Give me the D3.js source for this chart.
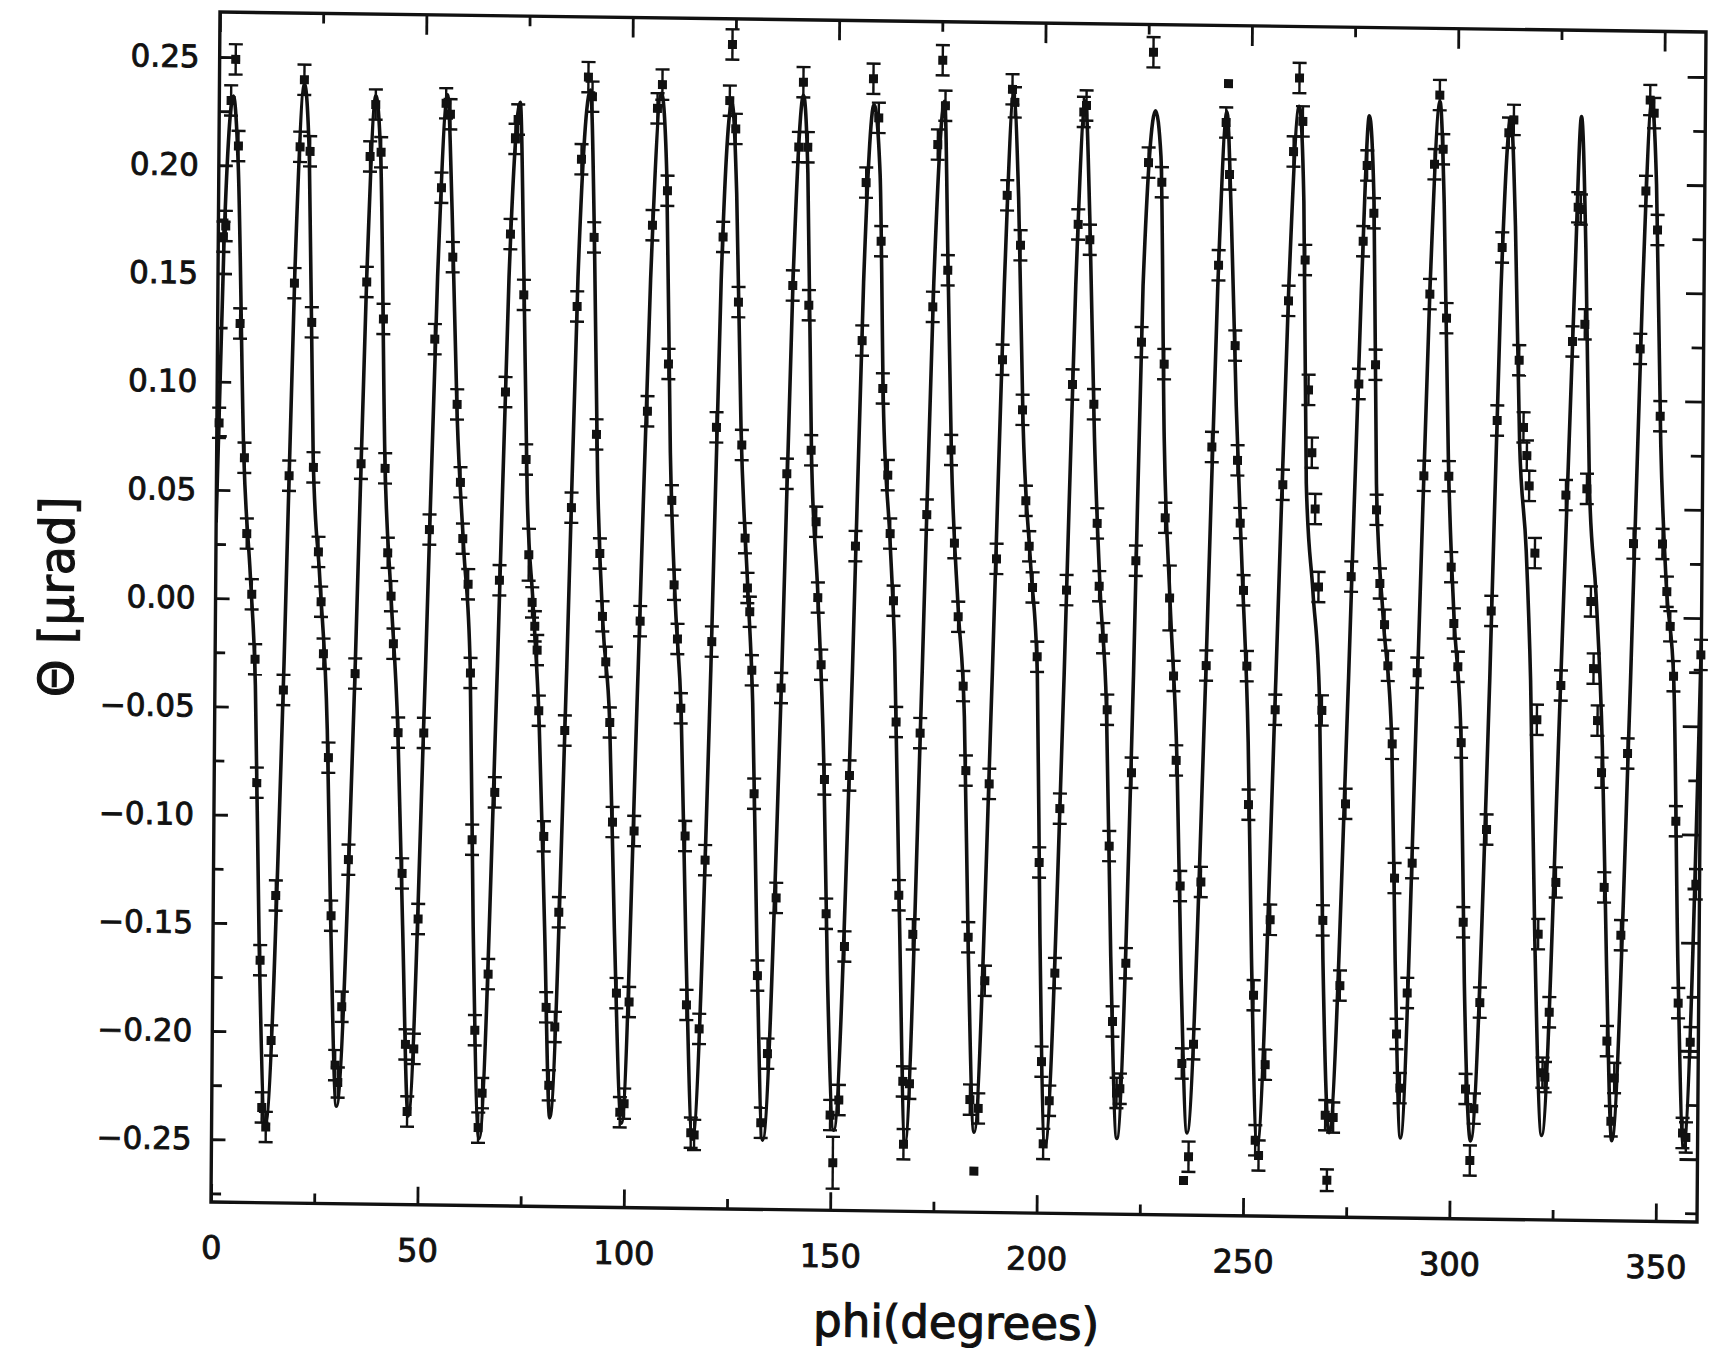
<!DOCTYPE html>
<html>
<head>
<meta charset="utf-8">
<script src="https://cdn.jsdelivr.net/npm/d3@7"></script>
<style>
  html, body { margin: 0; padding: 0; background: #fff; }
  svg { display: block; }
</style>
</head>
<body>
<script>
// Measured tilt angle Θ (µrad) against rotation angle phi (degrees): [phi, theta]
const measurements = [
  [0.53,0.081],[1.24,0.167],[1.79,0.172],[2.85,0.230],[3.90,0.249],[4.71,0.209],[5.44,0.127],[6.73,0.065],
  [7.44,0.030],[8.76,0.002],[9.68,-0.028],[10.32,-0.085],[11.45,-0.167],[12.12,-0.235],[13.13,-0.244],
  [14.26,-0.204],[15.12,-0.137],[16.60,-0.042],[17.59,0.057],[18.53,0.146],[19.65,0.209],[20.57,0.240],
  [22.08,0.207],[22.79,0.128],[23.46,0.061],[24.83,0.022],[25.57,-0.001],[26.23,-0.025],[27.63,-0.073],
  [28.56,-0.146],[29.81,-0.215],[30.49,-0.223],[31.31,-0.188],[32.66,-0.120],[33.94,-0.034],[35.00,0.063],
  [36.04,0.147],[36.62,0.205],[37.90,0.229],[39.28,0.207],[40.15,0.130],[40.83,0.061],[41.62,0.022],
  [42.51,0.002],[43.16,-0.020],
  [44.46,-0.061],[45.69,-0.126],[46.81,-0.205],[47.34,-0.236],[48.84,-0.207],[49.65,-0.147],[50.68,-0.061],
  [51.68,0.033],[52.63,0.121],[53.97,0.191],[54.94,0.230],[56.01,0.225],[56.84,0.159],[58.16,0.091],
  [59.10,0.055],[59.78,0.029],[61.15,0.008],[61.88,-0.033],[62.59,-0.110],[63.59,-0.198],[64.57,-0.243],
  [65.47,-0.227],[66.71,-0.172],[67.99,-0.088],[68.73,0.010],[69.85,0.097],[70.77,0.170],[71.80,0.214],
  [72.41,0.223],[74.11,0.142],[74.97,0.066],[75.80,0.022],[76.69,0.000],[77.38,-0.011],[77.99,-0.022],
  [78.50,-0.050],[79.94,-0.108],[80.82,-0.187],[81.61,-0.223],[82.96,-0.196],[83.72,-0.143],[84.83,-0.059],
  [86.04,0.044],[87.05,0.137],[87.83,0.205],
  [89.37,0.243],[90.38,0.234],[91.04,0.169],[91.97,0.078],[93.00,0.023],[93.75,-0.006],[94.64,-0.027],
  [95.72,-0.055],[96.56,-0.101],[97.83,-0.180],[98.86,-0.235],[99.89,-0.231],[100.91,-0.184],[101.81,-0.105],
  [102.89,-0.008],[104.27,0.089],[105.15,0.175],[106.15,0.229],[107.31,0.240],[108.72,0.191],[109.28,0.111],
  [110.34,0.048],[111.05,0.009],[111.96,-0.016],[112.90,-0.048],[114.18,-0.107],[114.81,-0.185],[116.09,-0.244],
  [116.91,-0.245],[117.93,-0.196],[119.06,-0.118],[120.28,-0.017],[121.02,0.082],[122.28,0.170],[123.65,0.233],
  [124.20,0.259],[125.15,0.220],[126.12,0.140],[127.19,0.074],[128.16,0.031],[128.82,0.008],[129.43,-0.003],
  [130.03,-0.030],[130.81,-0.087],[131.95,-0.171],[133.03,-0.239],[134.52,-0.207],
  [136.34,-0.135],[137.16,-0.038],[138.15,0.061],[139.25,0.148],[140.45,0.212],[141.46,0.242],[142.63,0.212],
  [143.17,0.139],[144.00,0.072],[145.34,0.039],[145.88,0.004],[146.81,-0.027],[147.83,-0.080],[148.48,-0.142],
  [149.81,-0.235],[150.55,-0.257],[151.89,-0.228],[152.98,-0.157],[153.88,-0.078],[154.91,0.028],[156.15,0.123],
  [156.83,0.196],[158.42,0.244],[159.77,0.226],[160.57,0.169],[161.24,0.101],[162.61,0.061],[163.29,0.034],
  [164.22,0.003],[165.08,-0.053],[166.05,-0.133],[167.36,-0.219],[167.64,-0.248],[168.98,-0.220],[169.51,-0.151],
  [170.92,-0.058],[172.13,0.043],[173.21,0.139],[174.12,0.214],[175.17,0.253],[175.90,0.232],[176.77,0.156],
  [177.91,0.073],[178.88,0.030],
  [179.92,-0.004],[181.26,-0.036],[182.06,-0.075],[182.93,-0.152],[183.64,-0.227],[184.74,-0.260],[185.67,-0.231],
  [187.05,-0.172],[187.74,-0.081],[189.10,0.023],[190.19,0.115],[191.02,0.191],[192.11,0.240],[192.71,0.234],
  [194.34,0.168],[195.13,0.092],[196.10,0.050],[196.99,0.029],[197.88,0.010],[199.13,-0.022],[199.99,-0.117],
  [200.92,-0.209],[201.48,-0.247],[202.86,-0.227],[203.99,-0.168],[204.90,-0.092],[206.12,0.009],[207.19,0.104],
  [208.27,0.178],[209.43,0.230],[210.07,0.233],[211.13,0.171],[212.40,0.095],[213.42,0.040],[214.02,0.011],
  [215.09,-0.013],[216.19,-0.046],[216.92,-0.109],[218.05,-0.190],[219.15,-0.223],[219.95,-0.221],[221.17,-0.163],
  [222.19,-0.075],[222.86,0.023],[223.82,0.124],
  [225.20,0.207],[226.20,0.258],[228.46,0.198],[229.36,0.114],[229.89,0.043],[231.10,0.006],[232.20,-0.030],
  [232.99,-0.069],[234.19,-0.127],[234.92,-0.209],[235.54,-0.263],[236.71,-0.252],[237.71,-0.200],[239.20,-0.125],
  [240.09,-0.025],[241.06,0.076],[242.35,0.160],[243.93,0.226],[244.43,0.244],[244.84,0.202],[246.52,0.123],
  [247.30,0.070],[248.07,0.041],[248.99,0.010],[249.94,-0.025],[250.59,-0.089],[252.16,-0.177],[252.83,-0.244],
  [253.67,-0.251],[255.11,-0.209],[256.05,-0.142],[256.88,-0.045],[258.32,0.059],[259.36,0.144],[260.31,0.213],
  [261.62,0.247],[262.51,0.227],[263.32,0.163],[264.37,0.103],[265.30,0.074],[266.20,0.048],[267.15,0.012],
  [268.19,-0.045],[268.81,-0.142],[269.74,-0.232],[270.26,-0.262],
  [271.68,-0.233],[273.06,-0.172],[274.09,-0.088],[275.05,0.017],[276.55,0.106],[277.34,0.172],[278.17,0.207],
  [279.88,0.185],[280.56,0.115],[281.07,0.048],[282.01,0.014],[283.22,-0.005],[284.10,-0.024],[285.29,-0.060],
  [286.10,-0.122],[286.87,-0.194],[287.77,-0.219],[289.38,-0.175],[290.35,-0.115],[291.21,-0.027],[292.47,0.064],
  [293.59,0.148],[294.48,0.208],[295.64,0.240],[296.55,0.215],[297.67,0.137],[298.52,0.064],[299.26,0.022],
  [300.00,-0.004],[301.05,-0.024],[302.00,-0.059],[302.82,-0.142],[303.68,-0.219],[304.86,-0.252],[305.74,-0.228],
  [306.99,-0.179],[308.30,-0.099],[309.03,0.002],[310.13,0.090],[311.02,0.170],[312.43,0.223],[313.62,0.229],
  [315.35,0.118],[316.52,0.087],[317.38,0.074],[318.00,0.060],[319.51,0.029],[320.29,-0.048],[321.00,-0.147],
  [322.30,-0.211],[322.88,-0.213],[323.82,-0.183],[325.19,-0.123],[326.04,-0.032],[326.91,0.056],[328.23,0.127],
  [329.36,0.189],[330.01,0.188],[331.19,0.135],[331.98,0.059],[333.15,0.007],[333.93,-0.024],[334.99,-0.048],
  [336.05,-0.072],[336.90,-0.125],[337.84,-0.196],[338.95,-0.233],[339.68,-0.213],[341.03,-0.147],[342.32,-0.063],
  [343.38,0.034],[344.64,0.124],[345.73,0.197],[346.61,0.239],[347.60,0.233],[348.62,0.179],[349.61,0.093],
  [350.40,0.034],[351.54,0.012],[352.42,-0.004],[353.32,-0.027],[354.14,-0.094],[355.04,-0.178],[356.33,-0.238],
  [357.15,-0.240],[358.03,-0.196],[359.11,-0.123],[359.90,-0.017]
];

// Error bar half-width (µrad); a few points carry a different one
const sigmaDefault = 0.007;
const sigmaByPhi = new Map([
  [75.80, 0.012], [150.55, 0.012], [184.74, 0], [231.10, 0.015],
  [235.54, 0], [244.43, 0], [270.26, 0.005]
]);

// Fitted curve through the run: [phi, theta]
const fitCurve = [
  [0.0,0.035],[1.4,0.165],
  [3.4,0.232],[4.7,0.200],[6.6,0.065],[8.4,0.010],[9.8,-0.040],[11.2,-0.160],[13.0,-0.243],[16.7,-0.030],[18.6,0.150],
  [20.6,0.238],[21.9,0.205],[23.4,0.065],[25.2,0.010],[27.3,-0.060],[28.5,-0.150],[30.2,-0.234],[33.9,-0.035],[36.0,0.147],
  [37.9,0.233],[39.2,0.205],[40.8,0.063],[42.4,0.005],[44.4,-0.060],[45.9,-0.150],[47.6,-0.238],[51.0,-0.030],[53.2,0.150],
  [55.3,0.234],[56.6,0.180],[58.2,0.085],[60.0,0.025],[61.8,-0.030],[63.0,-0.150],[64.8,-0.248],[68.4,-0.030],[70.5,0.150],
  [72.9,0.231],[74.0,0.160],[75.3,0.050],[76.9,0.000],[78.6,-0.055],[80.3,-0.150],[81.9,-0.238],[85.2,-0.030],[87.2,0.150],
  [89.9,0.237],[91.1,0.170],[92.3,0.060],[93.9,-0.010],[95.7,-0.055],[97.2,-0.150],[99.3,-0.240],[102.5,-0.030],[104.8,0.150],
  [107.1,0.236],[108.5,0.200],[109.9,0.070],[111.4,0.000],[113.0,-0.050],[114.6,-0.160],[116.5,-0.247],[120.1,-0.030],[121.9,0.150],
  [124.2,0.232],[125.5,0.190],[127.0,0.080],[128.9,0.008],[130.3,-0.045],[131.8,-0.160],[133.5,-0.247],[137.3,-0.030],[139.3,0.150],
  [141.5,0.236],[142.7,0.200],[144.1,0.070],[145.9,0.005],[147.6,-0.070],[148.9,-0.170],[150.7,-0.242],[154.4,-0.030],[156.4,0.150],
  [158.6,0.232],[160.2,0.200],[161.4,0.095],[163.3,0.030],[164.6,-0.020],[166.2,-0.140],[168.0,-0.247],[171.3,-0.030],[173.4,0.150],
  [175.7,0.234],[176.8,0.160],[178.0,0.070],[179.9,0.000],[181.6,-0.050],[183.0,-0.160],[184.7,-0.242],[188.3,-0.030],[190.5,0.150],
  [192.4,0.237],[193.8,0.190],[195.3,0.085],[197.4,0.020],[199.2,-0.030],[200.3,-0.150],[201.9,-0.248],[205.7,-0.030],[207.8,0.150],
  [209.8,0.235],[211.1,0.180],[212.6,0.080],[214.3,0.008],[216.0,-0.045],[217.5,-0.160],[219.3,-0.244],[222.5,-0.030],[224.1,0.150],
  [226.8,0.231],[228.2,0.210],[229.5,0.080],[231.2,0.005],[233.2,-0.070],[234.6,-0.170],[236.3,-0.241],[240.0,-0.030],[242.2,0.150],
  [244.1,0.231],[245.4,0.180],[246.9,0.095],[248.6,0.020],[250.4,-0.060],[251.6,-0.160],[253.3,-0.246],[257.0,-0.030],[259.4,0.150],
  [261.6,0.234],[262.9,0.190],[264.0,0.060],[265.8,0.010],[267.6,-0.040],[268.9,-0.160],[270.7,-0.240],[274.6,-0.030],[277.0,0.150],
  [278.6,0.230],[279.9,0.190],[281.0,0.060],[282.8,0.000],[285.2,-0.060],[286.4,-0.160],[288.0,-0.242],[291.3,-0.030],[293.6,0.150],
  [295.7,0.237],[296.9,0.190],[298.4,0.070],[300.0,0.000],[302.0,-0.060],[303.2,-0.170],[305.0,-0.243],[308.8,-0.030],[310.8,0.150],
  [312.9,0.230],[314.2,0.180],[315.6,0.080],[317.4,0.030],[318.7,-0.030],[320.2,-0.150],[322.2,-0.240],[326.0,-0.030],[328.6,0.150],
  [330.0,0.231],[331.3,0.170],[332.6,0.060],[334.4,0.010],[336.2,-0.060],[337.6,-0.160],[339.2,-0.242],[342.9,-0.030],[345.1,0.150],
  [347.0,0.238],[348.3,0.200],[349.8,0.080],[351.4,0.015],[353.4,-0.030],[354.9,-0.160],[356.6,-0.244],[360.0,-0.010]
];

// Tick values
const xMajorTicks = [0, 50, 100, 150, 200, 250, 300, 350];
const xMinorTicks = [25, 75, 125, 175, 225, 275, 325];
const yMajorTicks = [-0.25, -0.20, -0.15, -0.10, -0.05, 0.00, 0.05, 0.10, 0.15, 0.20, 0.25];
const yMinorTicks = [-0.275, -0.225, -0.175, -0.125, -0.075, -0.025, 0.025, 0.075, 0.125, 0.175, 0.225];

const xLabel = "phi(degrees)";
const yLabel = "\u0398 [\u03bcrad]";

// ---- layout ----
const pageW = 1709, pageH = 1354;
const W = 1486, H = 1190;
const ink = "#111";
const font = "'DejaVu Sans', 'Liberation Sans', sans-serif";

const x = d3.scaleLinear().domain([0, 360]).range([0, W]);
const y = d3.scaleLinear().domain([-0.279, 0.2708]).range([H, 0]);

const svg = d3.select("body").append("svg")
  .attr("width", pageW).attr("height", pageH)
  .attr("viewBox", `0 0 ${pageW} ${pageH}`);

svg.append("rect").attr("width", pageW).attr("height", pageH).attr("fill", "#fff");

// the printed sheet sits slightly askew on the page
const g = svg.append("g")
  .attr("transform", "matrix(1,0.01346,-0.00756,1,220,12)");

g.append("clipPath").attr("id", "plotClip")
  .append("rect").attr("x", 0).attr("y", 0).attr("width", W).attr("height", H);

function styleAxis(sel, fontSize) {
  sel.select(".domain").remove();
  sel.selectAll(".tick line").attr("stroke", ink).attr("stroke-width", 2.8);
  sel.selectAll(".tick text")
    .attr("fill", ink)
    .attr("stroke", ink)
    .attr("stroke-width", 0.9)
    .attr("font-family", font)
    .attr("font-size", fontSize);
}

// bottom axis
g.append("g").attr("transform", `translate(0,${H})`)
  .call(d3.axisBottom(x).tickValues(xMajorTicks).tickSizeInner(-18).tickSizeOuter(0)
        .tickPadding(34).tickFormat(d3.format("d")))
  .call(s => styleAxis(s, 32));
g.append("g").attr("transform", `translate(0,${H})`)
  .call(d3.axisBottom(x).tickValues(xMinorTicks).tickSizeInner(-10).tickSizeOuter(0).tickFormat(""))
  .call(s => styleAxis(s, 32));

// top axis (ticks only)
g.append("g")
  .call(d3.axisTop(x).tickValues(xMajorTicks).tickSizeInner(-20).tickSizeOuter(0).tickFormat(""))
  .call(s => styleAxis(s, 32));
g.append("g")
  .call(d3.axisTop(x).tickValues(xMinorTicks).tickSizeInner(-10).tickSizeOuter(0).tickFormat(""))
  .call(s => styleAxis(s, 32));

// left axis
g.append("g")
  .call(d3.axisLeft(y).tickValues(yMajorTicks).tickSizeInner(-14).tickSizeOuter(0)
        .tickPadding(20).tickFormat(d3.format(".2f")))
  .call(s => styleAxis(s, 31));
g.append("g")
  .call(d3.axisLeft(y).tickValues(yMinorTicks).tickSizeInner(-10).tickSizeOuter(0).tickFormat(""))
  .call(s => styleAxis(s, 31));

// right axis (ticks only)
g.append("g").attr("transform", `translate(${W},0)`)
  .call(d3.axisRight(y).tickValues(yMajorTicks).tickSizeInner(-18).tickSizeOuter(0).tickFormat(""))
  .call(s => styleAxis(s, 31));
g.append("g").attr("transform", `translate(${W},0)`)
  .call(d3.axisRight(y).tickValues(yMinorTicks).tickSizeInner(-12).tickSizeOuter(0).tickFormat(""))
  .call(s => styleAxis(s, 31));

// frame
g.append("rect")
  .attr("x", 0).attr("y", 0).attr("width", W).attr("height", H)
  .attr("fill", "none").attr("stroke", ink).attr("stroke-width", 3.4);

// fitted curve
const line = d3.line()
  .x(d => x(d[0]))
  .y(d => y(d[1]))
  .curve(d3.curveMonotoneX);

g.append("path")
  .datum(fitCurve)
  .attr("clip-path", "url(#plotClip)")
  .attr("d", line)
  .attr("fill", "none")
  .attr("stroke", ink)
  .attr("stroke-width", 3.6)
  .attr("stroke-linejoin", "round");

// measured points with error bars
const sigmaOf = d => (sigmaByPhi.has(d[0]) ? sigmaByPhi.get(d[0]) : sigmaDefault);
const capHalf = 7, box = 9;

const pts = g.append("g").attr("class", "points");
const pg = pts.selectAll("g.pt").data(measurements).join("g").attr("class", "pt");

pg.filter(d => sigmaOf(d) > 0).append("line")
  .attr("x1", d => x(d[0])).attr("x2", d => x(d[0]))
  .attr("y1", d => y(d[1] - sigmaOf(d))).attr("y2", d => y(d[1] + sigmaOf(d)))
  .attr("stroke", ink).attr("stroke-width", 2.4);
pg.filter(d => sigmaOf(d) > 0).append("line")
  .attr("x1", d => x(d[0]) - capHalf).attr("x2", d => x(d[0]) + capHalf)
  .attr("y1", d => y(d[1] + sigmaOf(d))).attr("y2", d => y(d[1] + sigmaOf(d)))
  .attr("stroke", ink).attr("stroke-width", 2.4);
pg.filter(d => sigmaOf(d) > 0).append("line")
  .attr("x1", d => x(d[0]) - capHalf).attr("x2", d => x(d[0]) + capHalf)
  .attr("y1", d => y(d[1] - sigmaOf(d))).attr("y2", d => y(d[1] - sigmaOf(d)))
  .attr("stroke", ink).attr("stroke-width", 2.4);
pg.append("rect")
  .attr("x", d => x(d[0]) - box / 2).attr("y", d => y(d[1]) - box / 2)
  .attr("width", box).attr("height", box)
  .attr("fill", ink);

// axis titles
g.append("text")
  .attr("x", W / 2 + 3).attr("y", 1316)
  .attr("text-anchor", "middle")
  .attr("font-family", font).attr("font-size", 45).attr("fill", ink)
  .attr("stroke", ink).attr("stroke-width", 1.1)
  .text(xLabel);

g.append("text")
  .attr("transform", "translate(-159,587) rotate(-90)")
  .attr("text-anchor", "middle")
  .attr("dominant-baseline", "central")
  .attr("font-family", font).attr("font-size", 48).attr("fill", ink)
  .attr("stroke", ink).attr("stroke-width", 1.1)
  .text(yLabel);
</script>
</body>
</html>
